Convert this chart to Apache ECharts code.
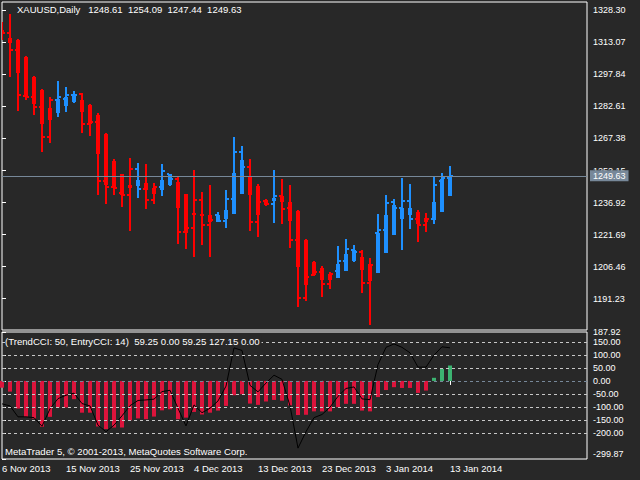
<!DOCTYPE html>
<html><head><meta charset="utf-8">
<script src="https://cdn.jsdelivr.net/npm/echarts@6/dist/echarts.min.js"></script>
<style>html,body{margin:0;padding:0;background:#282828;}#c{width:640px;height:480px;}</style>
</head><body><div id="c"></div>
<script>
const symbolName = 'XAUUSD,Daily';
const dates = ['6 Nov 2013','7 Nov 2013','8 Nov 2013','10 Nov 2013','11 Nov 2013','12 Nov 2013','13 Nov 2013','14 Nov 2013',
'15 Nov 2013','17 Nov 2013','18 Nov 2013','19 Nov 2013','20 Nov 2013','21 Nov 2013','22 Nov 2013','24 Nov 2013',
'25 Nov 2013','26 Nov 2013','27 Nov 2013','28 Nov 2013','29 Nov 2013','1 Dec 2013','2 Dec 2013','3 Dec 2013',
'4 Dec 2013','5 Dec 2013','6 Dec 2013','8 Dec 2013','9 Dec 2013','10 Dec 2013','11 Dec 2013','12 Dec 2013',
'13 Dec 2013','15 Dec 2013','16 Dec 2013','17 Dec 2013','18 Dec 2013','19 Dec 2013','20 Dec 2013','22 Dec 2013',
'23 Dec 2013','24 Dec 2013','26 Dec 2013','27 Dec 2013','29 Dec 2013','30 Dec 2013','31 Dec 2013','2 Jan 2014',
'3 Jan 2014','5 Jan 2014','6 Jan 2014','7 Jan 2014','8 Jan 2014','9 Jan 2014','10 Jan 2014','12 Jan 2014','13 Jan 2014'];
const openP = [1319.9,1317.6,1309.7,1287.5,1287.2,1282.4,1267.9,1285.6,1286.2,1288.3,1288.5,1274.5,1275.3,1247.2,1244.3,1241.5,
1240.7,1253.1,1243.4,1238.0,1244.3,1250.7,1248.3,1222.9,1224.8,1238.0,1226.1,1230.9,1228.2,1238.5,1261.0,1253.9,
1227.7,1237.7,1236.1,1240.1,1234.1,1219.3,1191.5,1202.6,1203.9,1198.4,1204.4,1209.1,1214.5,1213.4,1198.6,1222.2,
1223.7,1237.2,1234.3,1237.7,1229.0,1226.4,1229.0,1247.2,1248.61];
const highP = [1322.7,1326.5,1314.5,1306.5,1297.0,1290.8,1287.2,1294.6,1291.8,1289.9,1288.9,1283.6,1279.3,1269.8,1257.5,1250.7,
1258.3,1255.5,1255.1,1246.0,1255.1,1250.7,1249.4,1241.2,1252.3,1241.7,1245.1,1232.2,1243.1,1268.0,1263.7,1257.5,
1245.6,1238.5,1252.3,1248.3,1245.1,1233.2,1219.8,1209.0,1206.7,1203.9,1216.1,1219.4,1216.6,1214.2,1210.7,1231.3,
1240.4,1238.5,1248.6,1245.6,1233.2,1232.0,1249.4,1251.0,1254.09];
const lowP = [1314.2,1296.4,1280.5,1285.9,1278.5,1261.0,1265.3,1277.7,1280.0,1284.3,1269.8,1268.5,1240.4,1236.1,1240.4,1234.8,
1223.4,1239.1,1233.7,1236.4,1240.1,1244.8,1217.1,1214.7,1211.0,1216.6,1211.0,1227.7,1224.8,1231.7,1241.2,1223.4,
1220.3,1235.3,1227.2,1226.6,1215.3,1187.2,1190.1,1202.0,1192.0,1196.0,1201.1,1204.4,1208.6,1193.9,1178.8,1203.4,
1212.9,1221.3,1214.2,1224.2,1218.2,1222.9,1226.9,1232.4,1247.44];
const closeP = [1317.6,1309.7,1288.1,1287.2,1282.4,1267.9,1285.6,1287.2,1288.3,1288.0,1274.5,1275.0,1247.2,1244.3,1243.9,1240.7,
1253.1,1243.4,1238.0,1244.3,1252.0,1248.3,1222.9,1224.8,1238.0,1226.1,1228.5,1228.2,1238.5,1261.0,1253.9,1227.7,
1237.2,1236.1,1240.1,1233.7,1219.3,1191.5,1201.5,1203.9,1198.4,1202.8,1209.1,1215.0,1213.4,1198.6,1207.4,1223.7,
1236.7,1234.3,1237.7,1229.0,1226.4,1229.0,1245.5,1248.6,1249.63];
const bodyTop = [1318.9,1315.3,1314.2,1306.2,1296.7,1290.4,1282.1,1286.1,1286.9,1288.5,1285.9,1283.2,1278.5,1269.3,1256.6,1250.4,
1245.1,1247.5,1246.0,1243.9,1247.5,1250.4,1246.7,1241.2,1232.0,1231.3,1230.9,1230.9,1233.2,1251.2,1257.0,1249.1,
1244.8,1238.0,1239.3,1240.1,1237.2,1232.9,1219.3,1208.6,1205.8,1203.1,1207.9,1212.3,1214.5,1211.0,1207.9,1222.2,
1230.9,1235.6,1234.1,1234.3,1232.4,1229.6,1237.2,1247.9,1249.4];
const bodyBot = [1317.5,1312.6,1298.3,1287.2,1284.0,1274.2,1276.1,1279.6,1282.7,1284.8,1280.0,1274.2,1259.9,1245.1,1244.3,1240.4,
1244.0,1244.7,1243.1,1241.2,1243.1,1245.1,1234.3,1222.4,1231.7,1230.4,1227.7,1227.7,1229.3,1231.7,1241.2,1240.4,
1230.9,1235.6,1237.5,1237.2,1228.2,1206.3,1197.9,1202.3,1200.3,1200.3,1201.1,1204.4,1209.0,1205.0,1199.4,1203.4,
1212.9,1221.7,1229.0,1231.2,1226.6,1227.7,1228.5,1232.4,1240.1];
const trendUp = [0,0,0,0,0,0,0,1,1,1,0,0,0,0,0,0,
0,1,0,0,1,1,0,0,0,0,0,1,1,1,1,0,
0,0,1,0,0,0,0,0,0,0,1,1,1,0,0,1,
1,1,1,1,0,0,1,1,1];
const trendCCI = [-26,-41,-106,-138,-145,-176,-138,-102,-102,-70,-122,-122,-175,-185,-179,-179,
-151,-144,-147,-137,-113,-109,-147,-141,-119,-129,-122,-114,-96,-55,-51,-87,
-92,-79,-73,-76,-94,-131,-130,-117,-117,-117,-101,-88,-88,-114,-117,-62,
-35,-24,-27,-27,-46,-37,12,46,59.25];
const entryCCI = [-88,-96,-138,-138,-141,-174,-107,-68,-55,-47,-87,-96,-170,-195,-170,-134,
-95,-75,-73,-70,-41,-36,-105,-173,-92,-122,-105,-77,-20,127,117,-17,
-42,-8,22,6,-96,-258,-195,-141,-129,-101,-59,-29,-23,-69,-72,63,
129,142,129,108,53,53,99,131,127.15];
const priceTicks = [1191.23,1206.46,1221.69,1236.92,1252.15,1267.38,1282.61,1297.84,1313.07,1328.30];
const cciTicks = [187.92,150,100,50,0,-50,-100,-150,-200,-299.87];
const cciLevels = [150,100,50,0,-50,-100,-150,-200];

const FONT = 'Liberation Sans';
const last = dates.length - 1;
const labelIdx = dates.map((d,i)=>i).filter(i=>i%8===0);
const cciMax = cciTicks[0], cciMin = cciTicks[cciTicks.length-1];

function renderCandle(params, api) {
  const i = api.value(0);
  const o = api.value(1), h = api.value(2), l = api.value(3), c = api.value(4);
  const bt = api.value(5), bb = api.value(6), up = api.value(7);
  const col = up ? '#1E90FF' : '#FF0000';
  const x = Math.round(api.coord([i, o])[0]);
  const Y = v => Math.round(api.coord([i, v])[1]);
  const top = Y(Math.max(h, bt)), bot = Y(Math.min(l, bb));
  const yT = Y(bt), yB = Y(bb), yo = Y(o), yc = Y(c);
  return {type:'group', children:[
    {type:'rect', shape:{x:x-1, y:top, width:2, height:Math.max(bot-top,1)}, style:{fill:col}},
    {type:'rect', shape:{x:x-2, y:yT, width:4, height:Math.max(yB-yT,2)}, style:{fill:col}},
    {type:'rect', shape:{x:x-3, y:yo-1, width:2, height:2}, style:{fill:col}},
    {type:'rect', shape:{x:x+1, y:yc-1, width:2, height:2}, style:{fill:col}}
  ]};
}

const chart = echarts.init(document.getElementById('c'), null, {renderer:'svg'});
const axisLbl = {color:'#ffffff', fontSize:9, fontFamily:FONT};
chart.setOption({
  animation:false,
  backgroundColor:'#282828',
  textStyle:{fontFamily:FONT},
  grid:[
    {left:2, top:2, width:585, height:328, show:true, borderColor:'#ffffff', borderWidth:1, backgroundColor:'transparent', containLabel:false, outerBoundsMode:'none'},
    {left:2, top:332, width:585, height:127, show:true, borderColor:'#ffffff', borderWidth:1, backgroundColor:'transparent', containLabel:false, outerBoundsMode:'none'}
  ],
  xAxis:[
    {type:'value', gridIndex:0, min:0, max:73.125, axisLine:{show:false}, axisTick:{show:false}, axisLabel:{show:false}, splitLine:{show:false}},
    {type:'value', gridIndex:1, min:0, max:73.125, axisLine:{show:false}, splitLine:{show:false},
     axisTick:{show:true, customValues:labelIdx, length:4, lineStyle:{color:'#ffffff'}},
     axisLabel:{customValues:labelIdx, formatter:v=>dates[v]||'', align:'left', margin:4, color:'#ffffff', fontSize:9.5, fontFamily:FONT}}
  ],
  yAxis:[
    {type:'value', gridIndex:0, position:'right', min:1176.3, max:1332.3, axisLine:{show:false}, splitLine:{show:false},
     axisTick:{show:true, customValues:priceTicks, length:4, lineStyle:{color:'#ffffff'}},
     axisLabel:Object.assign({customValues:priceTicks, formatter:v=>v.toFixed(2), margin:6}, axisLbl)},
    {type:'value', gridIndex:1, position:'right', min:cciMin, max:cciMax, axisLine:{show:false}, splitLine:{show:false},
     axisTick:{show:true, customValues:cciTicks, length:4, lineStyle:{color:'#ffffff'}},
     axisLabel:Object.assign({customValues:cciTicks, margin:6,
       formatter:v=>{ const s=v.toFixed(2); if (v===cciMin) return '{lo|'+s+'}'; return s; },
       rich:{lo:{padding:[0,0,11,0], color:'#ffffff', fontSize:9, fontFamily:FONT}}
     }, axisLbl)}
  ],
  series:[
    {type:'line', xAxisIndex:0, yAxisIndex:0, data:[], z:1, silent:true,
     markLine:{silent:true, symbol:['none','none'], animation:false,
       lineStyle:{color:'#778899', type:'solid', width:1},
       label:{show:true, position:'end', distance:3, formatter:closeP[last].toFixed(2), color:'#ffffff',
              backgroundColor:'#778899', padding:[1,3,1,3], fontSize:9, fontFamily:FONT},
       data:[{yAxis:closeP[last]}]}},
    {type:'custom', xAxisIndex:0, yAxisIndex:0, renderItem:renderCandle, clip:true, z:3,
     encode:{x:0, y:[1,2,3,4,5,6]},
     data:dates.map((d,i)=>[i, openP[i], highP[i], lowP[i], closeP[i], bodyTop[i], bodyBot[i], trendUp[i]])},
    {type:'line', xAxisIndex:1, yAxisIndex:1, data:[], z:1, silent:true,
     markLine:{silent:true, symbol:['none','none'], animation:false, label:{show:false},
       data:cciLevels.map(v=>({yAxis:v, lineStyle:{color: v===0 ? '#778899' : '#c8c8c8', type:[3,3], width:1}}))}},
    {type:'bar', xAxisIndex:1, yAxisIndex:1, barWidth:4, z:2,
     data:trendCCI.map((v,i)=>[i,v]),
     itemStyle:{color:p=>p.value[1]>=0 ? '#3CB371' : '#DC143C'}},
    {type:'line', xAxisIndex:1, yAxisIndex:1, z:3, symbol:'none', smooth:false,
     lineStyle:{color:'#000000', width:1},
     data:entryCCI.map((v,i)=>[i,v])}
  ],
  graphic:[
    {type:'text', left:17, top:4, z:10, style:{text:symbolName+'   '+[openP[last],highP[last],lowP[last],closeP[last]].map(v=>v.toFixed(2)).join('  '),
      fill:'#ffffff', fontSize:9.5, fontFamily:FONT}},
    {type:'text', left:5, top:336, z:10, style:{text:'(TrendCCI: 50, EntryCCI: 14)  '+trendCCI[last].toFixed(2)+' 0.00 '+trendCCI[last].toFixed(2)+' '+entryCCI[last].toFixed(2)+' 0.00',
      fill:'#ffffff', fontSize:9.6, fontFamily:FONT, backgroundColor:'#282828', padding:[0,2,0,0]}},
    {type:'text', left:5, top:446, z:10, style:{text:'MetaTrader 5, © 2001-2013, MetaQuotes Software Corp.',
      fill:'#ffffff', fontSize:9.6, fontFamily:FONT}}
  ]
});
</script>
</body></html>
